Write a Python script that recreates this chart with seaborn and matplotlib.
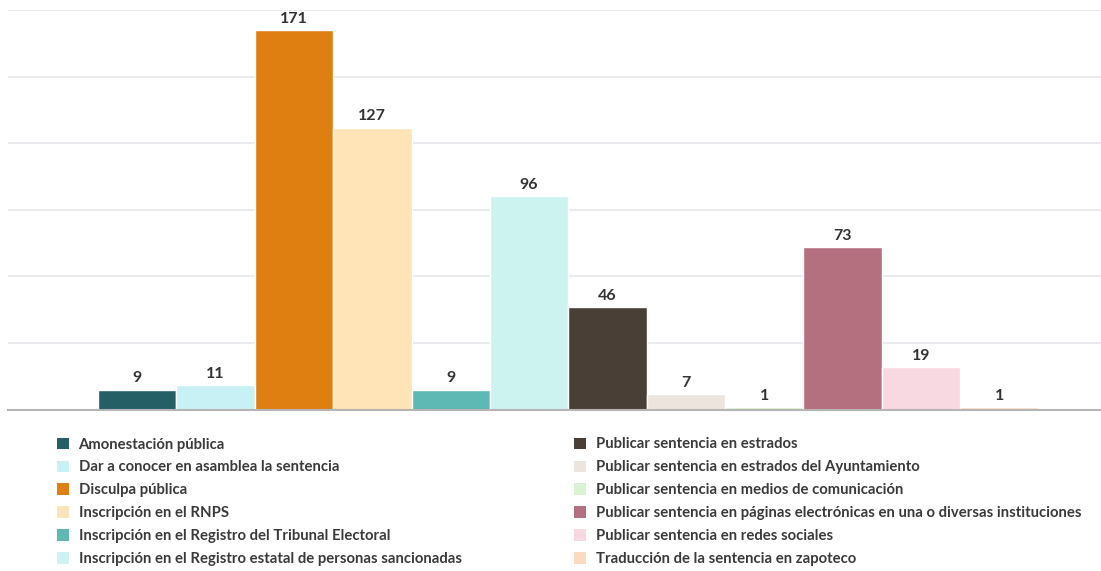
import seaborn as sns
import matplotlib.pyplot as plt
from matplotlib.patches import Patch
import pandas as pd

# data
categories = [
    "Amonestación pública",
    "Dar a conocer en asamblea la sentencia",
    "Disculpa pública",
    "Inscripción en el RNPS",
    "Inscripción en el Registro del Tribunal Electoral",
    "Inscripción en el Registro estatal de personas sancionadas",
    "Publicar sentencia en estrados",
    "Publicar sentencia en estrados del Ayuntamiento",
    "Publicar sentencia en medios de comunicación",
    "Publicar sentencia en páginas electrónicas en una o diversas instituciones",
    "Publicar sentencia en redes sociales",
    "Traducción de la sentencia en zapoteco",
]
values = [9, 11, 171, 127, 9, 96, 46, 7, 1, 73, 19, 1]
colors = ["#245f66", "#c8f1f6", "#e07f11", "#fee4b6", "#5eb8b3", "#cdf3f0",
          "#4a3f37", "#ede4dd", "#d8f2d2", "#b4707f", "#f9d9e1", "#fdd9bd"]

df = pd.DataFrame({"cat": categories, "val": values})

sns.set_style("white")
plt.rcParams["font.family"] = ["Lato", "DejaVu Sans"]

fig = plt.figure(figsize=(11.01, 5.71), dpi=100)
ax = fig.add_axes([8 / 1101, (571 - 409.5) / 571, 1 - 8 / 1101, 399.5 / 571])

sns.barplot(data=df, x="cat", y="val", hue="cat", palette=colors, legend=False,
            width=1.0, edgecolor="white", linewidth=1, saturation=1, ax=ax)

for c in ax.containers:
    ax.bar_label(c, padding=3, fontsize=11.5, fontweight="bold", color="#333333")

ax.set_ylim(0, 180)
ax.set_xlim(-1.65, 12.30)
ax.set_yticks([30, 60, 90, 120, 150, 180])
ax.yaxis.grid(True, color="#e6e7eb", linewidth=1.2)
ax.set_axisbelow(True)
ax.set_xticks([])
ax.set_yticklabels([])
ax.tick_params(left=False, bottom=False)
ax.set_xlabel("")
ax.set_ylabel("")
for s in ["top", "right", "left"]:
    ax.spines[s].set_visible(False)
ax.spines["bottom"].set_color("#b5b5b5")
ax.spines["bottom"].set_linewidth(1.5)

handles = [Patch(facecolor=col, edgecolor="none") for col in colors]
leg_kw = dict(frameon=False, handlelength=0.8, handleheight=0.8,
              handletextpad=0.65, labelspacing=0.6, borderaxespad=0, borderpad=0,
              prop={"weight": "bold", "size": 10.7})
for i, x0 in enumerate([57 / 1101, 574 / 1101]):
    leg = fig.legend(handles[i * 6:(i + 1) * 6], categories[i * 6:(i + 1) * 6],
                     loc="upper left", bbox_to_anchor=(x0, (571 - 437.5) / 571), **leg_kw)
    for t in leg.get_texts():
        t.set_color("#3a3a3a")

plt.savefig("out.png", dpi=100)
